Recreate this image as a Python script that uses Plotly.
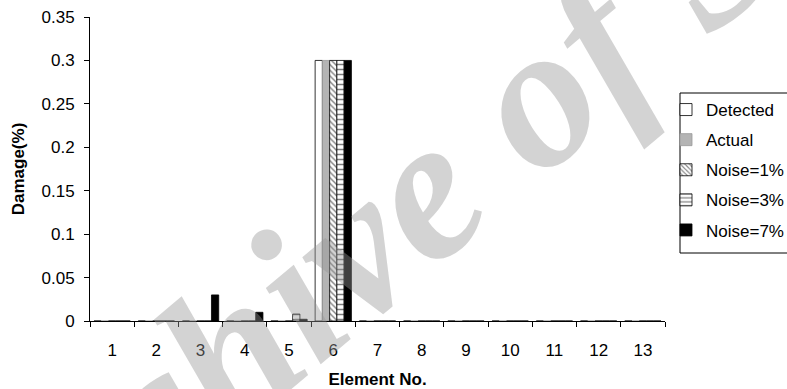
import plotly.graph_objects as go

elements = [str(i) for i in range(1, 14)]
detected = [0, 0, 0, 0, 0, 0.3, 0, 0, 0, 0, 0, 0, 0]
actual = [0, 0, 0, 0, 0, 0.3, 0, 0, 0, 0, 0, 0, 0]
noise1 = [0, 0, 0, 0, 0, 0.3, 0, 0, 0, 0, 0, 0, 0]
noise3 = [0, 0, 0, 0, 0.008, 0.3, 0, 0, 0, 0, 0, 0, 0]
noise7 = [0, 0, 0.03, 0.01, 0.002, 0.3, 0, 0, 0, 0, 0, 0, 0]

series = [
    ("Detected", detected, dict(color="white"), "black"),
    ("Actual", actual, dict(color="#b4b4b4"), "#999999"),
    ("Noise=1%", noise1, dict(color="white", pattern=dict(shape="\\", fgcolor="black", bgcolor="white", size=4, solidity=0.35)), "black"),
    ("Noise=3%", noise3, dict(color="white", pattern=dict(shape="-", fgcolor="black", bgcolor="white", size=5, solidity=0.3)), "black"),
    ("Noise=7%", noise7, dict(color="black"), "black"),
]

fig = go.Figure()
for name, vals, mk, lc in series:
    m = dict(mk)
    m["line"] = dict(color=lc, width=0.8)
    fig.add_trace(go.Bar(x=elements, y=vals, name=name, marker=m, legendgroup=name))

L, R, T, B = 90, 122, 17, 68
W, H = 787, 389
pw, ph = W - L - R, H - T - B

def px(x):
    return (x - L) / pw

def py(y):
    return (H - B - y) / ph

fig.update_layout(
    width=W, height=H,
    margin=dict(l=L, r=R, t=T, b=B, autoexpand=False),
    paper_bgcolor="white", plot_bgcolor="white",
    barmode="group", bargap=0.18, bargroupgap=0,
    font=dict(family="Liberation Sans, Arial", size=17, color="black"),
    legend=dict(x=px(666), y=py(92), xanchor="left", yanchor="top",
                borderwidth=0, bgcolor="rgba(0,0,0,0)",
                font=dict(size=17), tracegroupgap=5, itemwidth=30),
    showlegend=True,
)
fig.add_shape(type="rect", xref="paper", yref="paper",
              x0=px(680), x1=px(800), y0=py(253), y1=py(93),
              line=dict(color="black", width=1), fillcolor="rgba(0,0,0,0)", layer="below")

fig.update_xaxes(
    type="category", showline=True, linecolor="black", linewidth=1,
    ticks="outside", ticklen=5, tickcolor="black", tickson="boundaries",
    ticklabelstandoff=14,
    showgrid=False, zeroline=False,
    title=dict(text="<b>Element No.</b>", font=dict(size=17), standoff=13),
)
fig.update_yaxes(
    range=[0, 0.35], dtick=0.05, showline=True, linecolor="black", linewidth=1,
    ticks="outside", ticklen=5, tickcolor="black", ticklabelstandoff=6,
    showgrid=False, zeroline=False,
    title=dict(text="<b>Damage(%)</b>", font=dict(size=17), standoff=12),
)

fig.add_annotation(
    text="Archive of SID", xref="paper", yref="paper", x=px(433), y=py(180),
    xanchor="center", yanchor="middle", showarrow=False, textangle=-40,
    font=dict(family="Liberation Serif", size=204, color="rgba(150,150,150,0.42)",
              style="italic", weight="bold"),
)

fig.write_html("out.html")
